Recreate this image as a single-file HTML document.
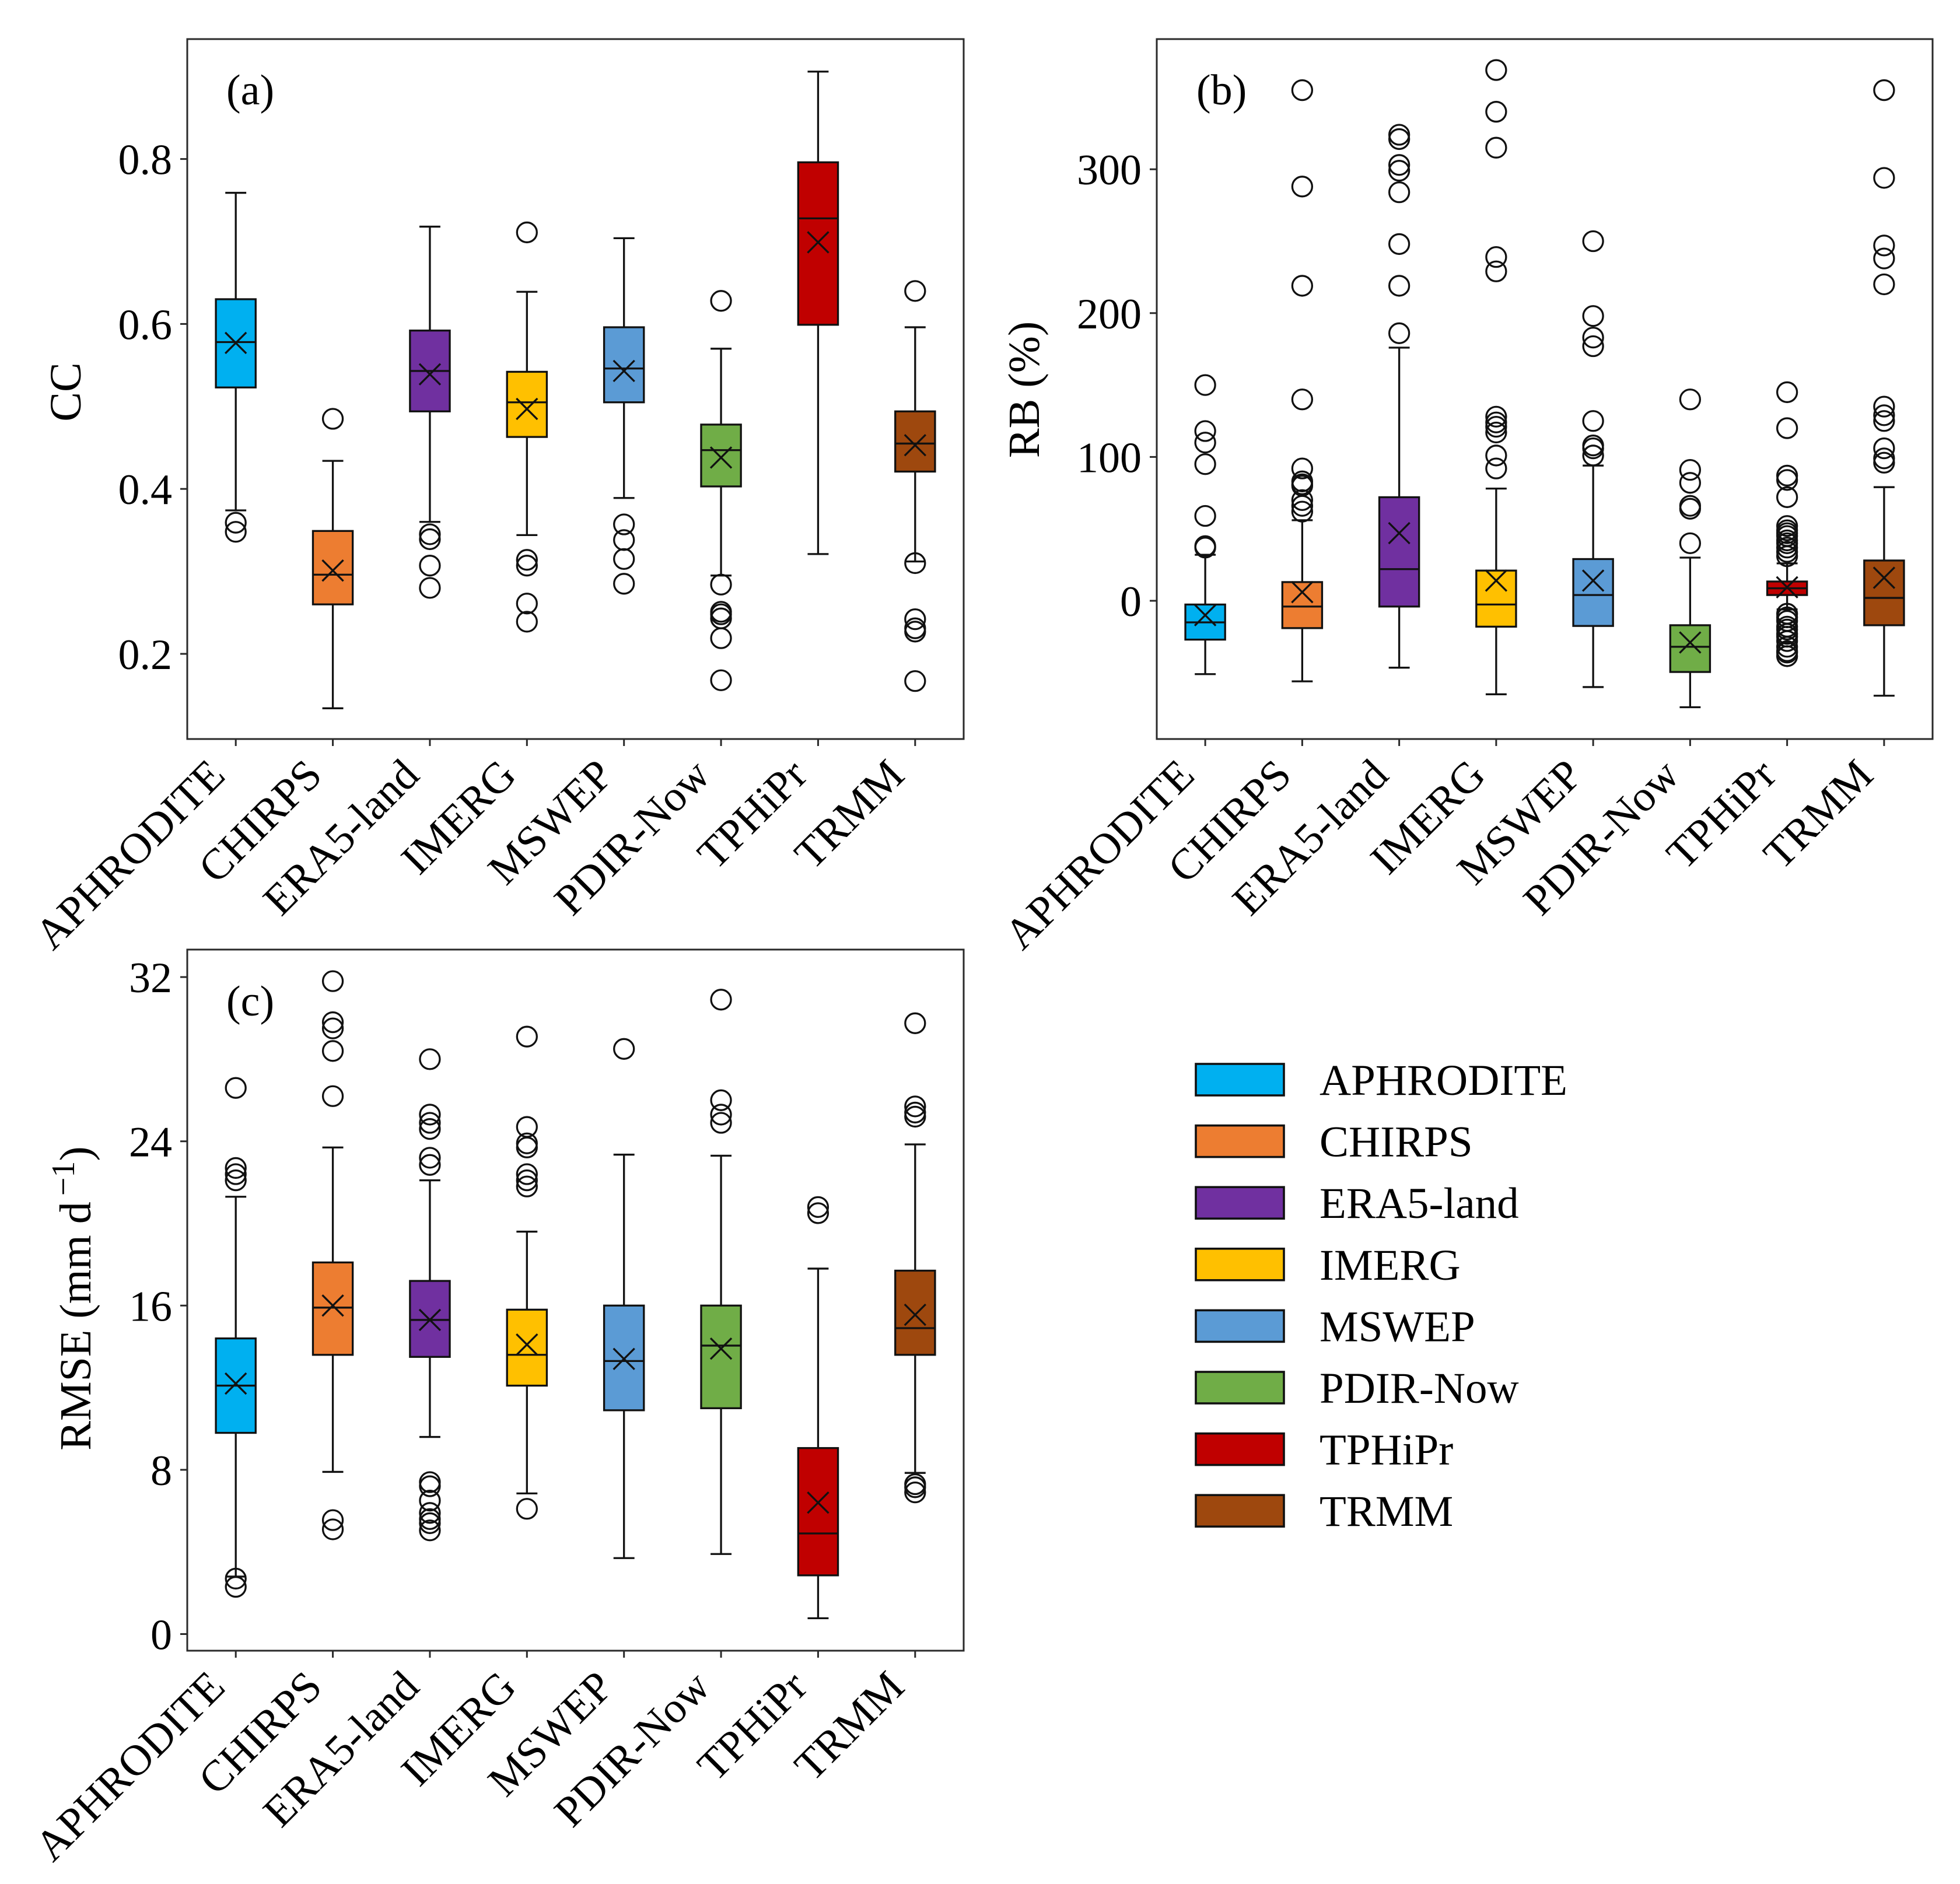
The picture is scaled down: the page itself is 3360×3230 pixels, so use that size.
<!DOCTYPE html>
<html lang="en">
<head>
<meta charset="utf-8">
<title>Boxplots of CC, RB and RMSE by precipitation product</title>
<style>
html,body{margin:0;padding:0;background:#fff;}
svg{display:block;font-family:"Liberation Serif","Times New Roman",serif;}
text{fill:#000;}
</style>
</head>
<body>
<svg id="chart" xmlns="http://www.w3.org/2000/svg" width="3360" height="3230" viewBox="0 0 3360 3230"></svg>
<script>
const categories = ["APHRODITE","CHIRPS","ERA5-land","IMERG","MSWEP","PDIR-Now","TPHiPr","TRMM"];
const seriesColors = ["#00B0F0","#ED7D31","#7030A0","#FFC000","#5B9BD5","#70AD47","#C00000","#9E480E"];

const ccTicks = [0.2,0.4,0.6,0.8];
const ccTickLabels = ["0.2","0.4","0.6","0.8"];
const ccWhiskerHigh = [0.759,0.434,0.718,0.639,0.704,0.570,0.906,0.596];
const ccQ3 = [0.630,0.349,0.592,0.542,0.596,0.478,0.796,0.494];
const ccMedian = [0.578,0.296,0.543,0.505,0.546,0.447,0.728,0.455];
const ccQ1 = [0.523,0.260,0.494,0.463,0.505,0.403,0.599,0.421];
const ccWhiskerLow = [0.374,0.134,0.360,0.344,0.389,0.295,0.321,0.312];
const ccMean = [0.577,0.301,0.539,0.497,0.543,0.438,0.699,0.453];
const ccFliers = [
  [0.359,0.348],
  [0.485],
  [0.345,0.339,0.307,0.280],
  [0.711,0.314,0.307,0.261,0.239],
  [0.357,0.338,0.315,0.285],
  [0.628,0.284,0.251,0.248,0.243,0.219,0.168],
  [],
  [0.640,0.310,0.242,0.231,0.227,0.167]
];

const rbTicks = [0,100,200,300];
const rbTickLabels = ["0","100","200","300"];
const rbWhiskerHigh = [32,56,176,78,94,30,26,79];
const rbQ3 = [-2.6,13,72,21,29,-17,13.4,28];
const rbMedian = [-15,-4,22,-2.6,4,-32,8.7,2];
const rbQ1 = [-27,-19,-4,-18,-17.5,-49.5,4,-17];
const rbWhiskerLow = [-51,-56,-46.5,-65,-60,-74,-6,-66];
const rbMean = [-10,6,47,14,14,-29,9.4,16];
const rbFliers = [
  [150,118,110,95,59,38,37],
  [355,288,219,140,92,83,81,80,70,66,62],
  [324,321,303,299,284,248,219,186],
  [369,340,315,239,229,128,124,121,117,101,92],
  [250,198,183,177,125,108,106,101],
  [140,91,82,66,64,40],
  [145,120,87,84,72,52,49,47,45,42,40,37,34,31,-9,-11.5,-14,-18,-20,-23,-25,-28,-32,-35,-36,-38.5],
  [355,294,247,238,220,135,129,125,106,99,96]
];

const rmseTicks = [0,8,16,24,32];
const rmseTickLabels = ["0","8","16","24","32"];
const rmseWhiskerHigh = [21.3,23.7,22.1,19.6,23.35,23.3,17.8,23.85];
const rmseQ3 = [14.4,18.1,17.2,15.8,16.0,16.0,9.06,17.7];
const rmseMedian = [12.1,15.9,15.3,13.6,13.3,14.05,4.9,14.9];
const rmseQ1 = [9.8,13.6,13.5,12.1,10.9,11.0,2.86,13.6];
const rmseWhiskerLow = [2.8,7.9,9.6,6.85,3.7,3.9,0.77,7.85];
const rmseMean = [12.2,16.0,15.3,14.1,13.4,13.9,6.4,15.55];
const rmseFliers = [
  [26.6,22.7,22.4,22.1,2.7,2.3],
  [31.8,29.8,29.5,28.4,26.2,5.55,5.1],
  [28.0,25.3,24.9,24.6,23.2,22.85,7.4,7.2,6.5,5.9,5.6,5.4,5.05],
  [29.1,24.7,23.9,23.7,22.4,22.1,21.8,6.1],
  [28.5],
  [30.9,26.0,25.3,24.9],
  [20.8,20.5],
  [29.75,25.7,25.4,25.2,7.3,7.15,6.9]
];

const NS = "http://www.w3.org/2000/svg";
const root = document.getElementById("chart");
const TICK_FONT = 74;
const XLABEL_FONT = 74.5;
const TITLE_FONT = 76;
const LW = 3.3;

function mk(tag, attrs, parent) {
  const el = document.createElementNS(NS, tag);
  for (const k in attrs) el.setAttribute(k, attrs[k]);
  parent.appendChild(el);
  return el;
}

function drawPanel(p) {
  const xScale = pos => p.left + (pos - 0.5) * (p.right - p.left) / categories.length;
  const yScale = v => p.yRefPx - (v - p.yRefVal) * p.pxPerUnit;
  const unit = (p.right - p.left) / categories.length;
  const boxHalf = unit * 0.205;
  const capHalf = unit * 0.108;
  const flierR = 17;
  const markHalf = 18;

  const g = mk("g", {}, root);
  
  

  p.ticks.forEach((t, i) => {
    const y = yScale(t);
    const tick = mk("line", {x1:p.left-12,x2:p.left,y1:y,y2:y,stroke:"#2a2a2a","stroke-width":3}, g);
    
    
    const lab = mk("text", {x:p.left-26,y:y+26,"text-anchor":"end","font-size":TICK_FONT}, g);
    
    
    lab.textContent = p.tickLabels[i];
  });

  categories.forEach((c, i) => {
    const x = xScale(i + 1);
    const tick = mk("line", {x1:x,x2:x,y1:p.bottom,y2:p.bottom+12,stroke:"#2a2a2a","stroke-width":3}, g);
    
    
    const ax = x - 15, ay = p.bottom + 66;
    const lab = mk("text", {x:ax,y:ay,"text-anchor":"end","font-size":XLABEL_FONT,transform:"rotate(-45 "+ax+" "+ay+")"}, g);
    
    
    lab.textContent = c;

    const box = mk("g", {}, g);
    
    

    const wh = mk("line", {x1:x,x2:x,y1:yScale(p.hi[i]),y2:yScale(p.q3[i]),stroke:"#111","stroke-width":LW}, box);
    
    
    const wl = mk("line", {x1:x,x2:x,y1:yScale(p.q1[i]),y2:yScale(p.lo[i]),stroke:"#111","stroke-width":LW}, box);
    
    
    const ch = mk("line", {x1:x-capHalf,x2:x+capHalf,y1:yScale(p.hi[i]),y2:yScale(p.hi[i]),stroke:"#111","stroke-width":LW}, box);
    
    
    const cl = mk("line", {x1:x-capHalf,x2:x+capHalf,y1:yScale(p.lo[i]),y2:yScale(p.lo[i]),stroke:"#111","stroke-width":LW}, box);
    
    

    const r = mk("rect", {x:x-boxHalf,y:yScale(p.q3[i]),width:boxHalf*2,height:yScale(p.q1[i])-yScale(p.q3[i]),fill:seriesColors[i],stroke:"#111","stroke-width":LW}, box);
    
    
    const m = mk("line", {x1:x-boxHalf,x2:x+boxHalf,y1:yScale(p.med[i]),y2:yScale(p.med[i]),stroke:"#111","stroke-width":LW}, box);
    
    

    p.fliers[i].forEach(v => {
      const f = mk("circle", {cx:x,cy:yScale(v),r:flierR,fill:"none",stroke:"#111","stroke-width":LW}, box);
      
      
    });

    const my = yScale(p.mean[i]);
    const mm = mk("path", {d:"M"+(x-markHalf)+" "+(my-markHalf)+"L"+(x+markHalf)+" "+(my+markHalf)+"M"+(x-markHalf)+" "+(my+markHalf)+"L"+(x+markHalf)+" "+(my-markHalf),fill:"none",stroke:"#111","stroke-width":LW}, box);
    
    
  });

  const frame = mk("rect", {x:p.left,y:p.top,width:p.right-p.left,height:p.bottom-p.top,fill:"none",stroke:"#2a2a2a","stroke-width":3}, g);
  
  

  const tag = mk("text", {x:p.tagX,y:p.tagY,"font-size":TICK_FONT}, g);
  
  
  tag.textContent = p.tag;

  const yl = mk("text", {x:p.ylX,y:p.ylY,"text-anchor":"middle","font-size":TITLE_FONT,transform:"rotate(-90 "+p.ylX+" "+p.ylY+")"}, g);
  
  
  if (p.ylSup) {
    yl.appendChild(document.createTextNode(p.ylabel));
    const sup = mk("tspan", {dy:-28,dx:10,"font-size":56}, yl);
    sup.textContent = p.ylSup;
    const end = mk("tspan", {dy:28}, yl);
    end.textContent = ")";
  } else {
    yl.textContent = p.ylabel;
  }
}

drawPanel({name:"panel-cc",tag:"(a)",left:321,right:1652,top:67,bottom:1267,tagX:388,tagY:179,
  yRefVal:0.2,yRefPx:1121,pxPerUnit:1414,ticks:ccTicks,tickLabels:ccTickLabels,
  hi:ccWhiskerHigh,q3:ccQ3,med:ccMedian,q1:ccQ1,lo:ccWhiskerLow,mean:ccMean,fliers:ccFliers,
  ylabel:"CC",ylX:138,ylY:672});
drawPanel({name:"panel-rb",tag:"(b)",left:1983,right:3313,top:67,bottom:1267,tagX:2051,tagY:179,
  yRefVal:0,yRefPx:1030,pxPerUnit:2.466,ticks:rbTicks,tickLabels:rbTickLabels,
  hi:rbWhiskerHigh,q3:rbQ3,med:rbMedian,q1:rbQ1,lo:rbWhiskerLow,mean:rbMean,fliers:rbFliers,
  ylabel:"RB (%)",ylX:1781,ylY:668});
drawPanel({name:"panel-rmse",tag:"(c)",left:321,right:1652,top:1628,bottom:2830,tagX:388,tagY:1741,
  yRefVal:0,yRefPx:2801.5,pxPerUnit:35.2,ticks:rmseTicks,tickLabels:rmseTickLabels,
  hi:rmseWhiskerHigh,q3:rmseQ3,med:rmseMedian,q1:rmseQ1,lo:rmseWhiskerLow,mean:rmseMean,fliers:rmseFliers,
  ylabel:"RMSE (mm d",ylSup:"\u22121",ylX:155,ylY:2226});

const legend = mk("g", {}, root);


categories.forEach((c, i) => {
  const y = 1824 + i * 105.6;
  const sw = mk("rect", {x:2050,y:y,width:151,height:54,fill:seriesColors[i],stroke:"#111","stroke-width":3.6}, legend);
  
  
  const t = mk("text", {x:2262,y:y+53,"font-size":75}, legend);
  
  
  t.textContent = c;
});
</script>
</body>
</html>
